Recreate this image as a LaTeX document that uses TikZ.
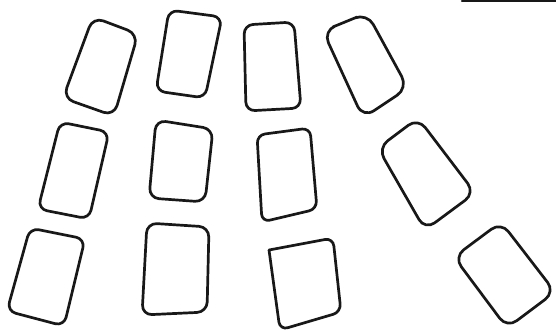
\documentclass[tikz,border=0pt]{standalone}
\usetikzlibrary{calc}
\definecolor{ink}{RGB}{24,24,24}
\tikzset{
  card/.style={draw=ink, line width=2.7pt, line join=round, line cap=round},
  topline/.style={draw=ink, line width=2.2pt, line cap=round}
}
\newcommand\drawcard[5]{%
  \draw[card, rounded corners=#5] ($#1!0.5!#2$) -- #2 -- #3 -- #4 -- #1 -- cycle;}
\begin{document}
\begin{tikzpicture}[x=1pt, y=-1pt]
\useasboundingbox (0,0) rectangle (556,331);
% row 1
\drawcard{(93,17)}{(138,34)}{(114,116)}{(63,98)}{11pt}
\drawcard{(169,10)}{(222,17)}{(205,98)}{(156,91)}{9pt}
\drawcard{(244,25)}{(294,22)}{(301,108)}{(246,111)}{9pt}
\drawcard{(323,31)}{(367,13)}{(408,88)}{(363,118)}{13pt}
% row 2
\drawcard{(60,122)}{(109,132)}{(89,219)}{(38,209)}{9pt}
\drawcard{(156,120)}{(213,129)}{(205,202)}{(149,198)}{10pt}
\drawcard{(257,135)}{(310,128)}{(317,209)}{(262,222)}{8pt}
\drawcard{(378,148)}{(418,118)}{(475,193)}{(425,230)}{12pt}
% row 3
\drawcard{(30,228)}{(85,239)}{(64,326)}{(7,311)}{9pt}
\drawcard{(147,223)}{(209,227)}{(207,312)}{(142,315)}{10pt}
\draw[card] (269,250) [rounded corners=8pt] -- (333,238) -- (341,312) -- (280,330) [sharp corners] -- (269,250) -- cycle;
\drawcard{(454,257)}{(501,222)}{(555,292)}{(507,328)}{12pt}
% top-right stroke
\coordinate (ls) at (462,1);
\coordinate (le) at (556,1);
\draw[topline] (ls) -- (le);
\end{tikzpicture}
\end{document}
